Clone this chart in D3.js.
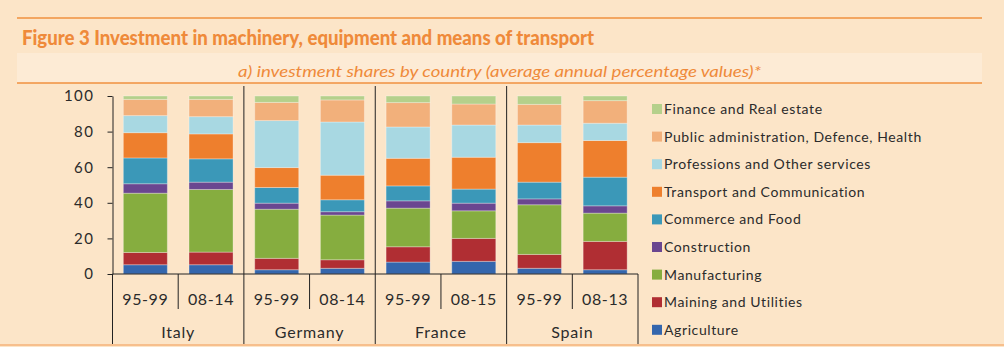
<!DOCTYPE html>
<html>
<head>
<meta charset="utf-8">
<script src="https://cdn.jsdelivr.net/npm/d3@7"></script>
<style>
  html, body { margin: 0; padding: 0; background: #fce5c8; }
  svg { display: block; }
</style>
</head>
<body>
<svg id="vis" width="1004" height="347"></svg>
<script>
// the data
var countries = ["Italy", "Germany", "France", "Spain"];
var periods = ["95-99", "08-14", "95-99", "08-14", "95-99", "08-15", "95-99", "08-13"];
var sectors = ["Agriculture", "Maining and Utilities", "Manufacturing", "Construction",
    "Commerce and Food", "Transport and Communication", "Professions and Other services",
    "Public administration, Defence, Health", "Finance and Real estate"];
var colors = ["#3466ad", "#b02e33", "#86ad3f", "#6a4690", "#3b98b8", "#ee7f2d", "#a8d8e2", "#f2b07b", "#b5d08b"];

// one array per sector, one value per bar (Italy 95-99 ... Spain 08-13)
var agriculture   = [5.2, 5.2, 2.4, 3.2, 6.7, 7.1, 3.2, 2.4];
var mining        = [6.9, 7.1, 6.4, 4.8, 8.6, 12.9, 7.8, 15.9];
var manufacturing = [33.3, 35.2, 27.6, 25.1, 21.7, 15.5, 27.9, 15.9];
var construction  = [5.3, 4.1, 3.4, 1.9, 4.1, 4.3, 3.3, 4.1];
var commerce      = [14.5, 13.1, 8.8, 6.7, 8.4, 7.9, 9.4, 16.1];
var transport     = [14.2, 14.0, 11.2, 13.8, 15.5, 17.9, 22.2, 20.6];
var professions   = [9.6, 9.7, 26.4, 29.9, 17.6, 18.1, 9.9, 9.7];
var publicAdm     = [9.1, 9.7, 10.2, 12.4, 13.7, 11.8, 11.6, 12.7];
var finance       = [1.9, 1.9, 3.6, 2.2, 3.7, 4.5, 4.7, 2.6];
var yTicks = [0, 20, 40, 60, 80, 100];

var seriesValues = [agriculture, mining, manufacturing, construction, commerce,
    transport, professions, publicAdm, finance];

var display = d3.select("#vis");
var FONT = "Lato, 'Open Sans', sans-serif";
var ORANGE = "#ef8a3a";
var TEXT = "#2b2b2b";

// build rows for d3.stack
var data = periods.map(function (p, i) {
    var row = {key: i, period: p, country: countries[Math.floor(i / 2)]};
    sectors.forEach(function (s, j) { row[s] = seriesValues[j][i]; });
    return row;
});

var xAxisScale = d3.scaleBand()
    .domain(data.map(d => d.key))
    .range([112.5, 638])
    .paddingInner(0.33)
    .paddingOuter(0.165);

var yAxisScale = d3.scaleLinear()
    .domain([0, 100])
    .range([274, 96]);

// header
display.append("line")
    .attr("x1", 17).attr("x2", 982).attr("y1", 18).attr("y2", 18)
    .attr("stroke", "#f0913f").attr("stroke-width", 1.5);
display.append("text")
    .attr("x", 22).attr("y", 45)
    .attr("textLength", 572).attr("lengthAdjust", "spacingAndGlyphs")
    .style("font-family", FONT).style("font-weight", "900").style("font-size", "20px")
    .attr("fill", ORANGE)
    .text("Figure 3  Investment in machinery, equipment and means of transport");
display.append("rect")
    .attr("x", 17).attr("y", 53).attr("width", 965).attr("height", 30)
    .attr("fill", "#fdebd5");
display.append("text")
    .attr("x", 238).attr("y", 77)
    .attr("textLength", 523).attr("lengthAdjust", "spacingAndGlyphs")
    .style("font-family", FONT).style("font-style", "italic").style("font-size", "16px")
    .attr("fill", ORANGE)
    .text("a) investment shares by country (average annual percentage values)*");
display.append("line")
    .attr("x1", 17).attr("x2", 982).attr("y1", 83).attr("y2", 83)
    .attr("stroke", "#f0913f").attr("stroke-width", 1.5);
display.append("line")
    .attr("x1", 0).attr("x2", 1004).attr("y1", 345).attr("y2", 345)
    .attr("stroke", "#f6b27a").attr("stroke-width", 1.5);

// stacked bars
var layers = d3.stack().keys(sectors)(data);

var groups = display.selectAll("g.sector")
    .data(layers)
    .enter()
    .append("g")
    .attr("class", "sector")
    .style("fill", (d, i) => colors[i]);

groups.selectAll("rect")
    .data(d => d)
    .enter()
    .append("rect")
    .attr("x", d => xAxisScale(d.data.key))
    .attr("y", d => yAxisScale(d[1]))
    .attr("width", xAxisScale.bandwidth())
    .attr("height", d => yAxisScale(d[0]) - yAxisScale(d[1]))
    .attr("stroke", "#ffffff")
    .attr("stroke-opacity", 0.3)
    .attr("stroke-width", 1);

// y axis
var yAxis = d3.axisLeft(yAxisScale)
    .tickValues(yTicks)
    .tickSizeOuter(0)
    .tickSizeInner(5)
    .tickPadding(13);
var yg = display.append("g")
    .attr("transform", "translate(112.5,0)")
    .call(yAxis);
yg.select(".domain").attr("stroke", "#222");
yg.selectAll(".tick line").attr("stroke", "#222");
yg.selectAll(".tick text")
    .style("font-family", FONT).style("font-size", "15px")
    .style("letter-spacing", "1.5px")
    .attr("fill", TEXT);

// x axis line
var x0 = xAxisScale.range()[0], x1 = xAxisScale.range()[1];
var step = xAxisScale.step();
display.append("line")
    .attr("x1", x0).attr("x2", x1)
    .attr("y1", yAxisScale(0)).attr("y2", yAxisScale(0))
    .attr("stroke", "#222");

// separators: between periods (short) and between countries (long)
d3.range(periods.length + 1).forEach(function (i) {
    var x = x0 + i * step;
    var isCountry = i % 2 === 0;
    var top = isCountry && i > 0 && i < periods.length ? 86 : yAxisScale(0);
    var bottom = isCountry ? 344 : 309;
    display.append("line")
        .attr("x1", x).attr("x2", x).attr("y1", top).attr("y2", bottom)
        .attr("stroke", "#222").attr("stroke-width", 1);
});

// period labels
display.selectAll("text.period")
    .data(data)
    .enter()
    .append("text")
    .attr("class", "period")
    .attr("x", d => xAxisScale(d.key) + xAxisScale.bandwidth() / 2)
    .attr("y", 305)
    .attr("text-anchor", "middle")
    .style("font-family", FONT).style("font-size", "16px")
    .style("letter-spacing", "0.6px")
    .attr("fill", TEXT)
    .text(d => d.period);

// country labels
display.selectAll("text.country")
    .data(countries)
    .enter()
    .append("text")
    .attr("class", "country")
    .attr("x", (d, i) => x0 + (i * 2 + 1) * step)
    .attr("y", 338)
    .attr("text-anchor", "middle")
    .style("font-family", FONT).style("font-size", "16px")
    .style("letter-spacing", "0.8px")
    .attr("fill", TEXT)
    .text(d => d);

// legend, top item is the last sector
var legendItems = sectors.slice().reverse();
var legendColors = colors.slice().reverse();
var legend = display.selectAll(".legend")
    .data(legendItems)
    .enter()
    .append("g")
    .attr("class", "legend")
    .attr("transform", (d, i) => "translate(652," + (109 + i * 27.6) + ")");
legend.append("rect")
    .attr("x", 0).attr("y", -5)
    .attr("width", 10).attr("height", 10)
    .style("fill", (d, i) => legendColors[i]);
legend.append("text")
    .attr("x", 12)
    .attr("y", 0)
    .attr("dy", "0.35em")
    .style("font-family", FONT).style("font-size", "14px")
    .style("letter-spacing", "0.6px")
    .attr("fill", TEXT)
    .text(d => d);
</script>
</body>
</html>
